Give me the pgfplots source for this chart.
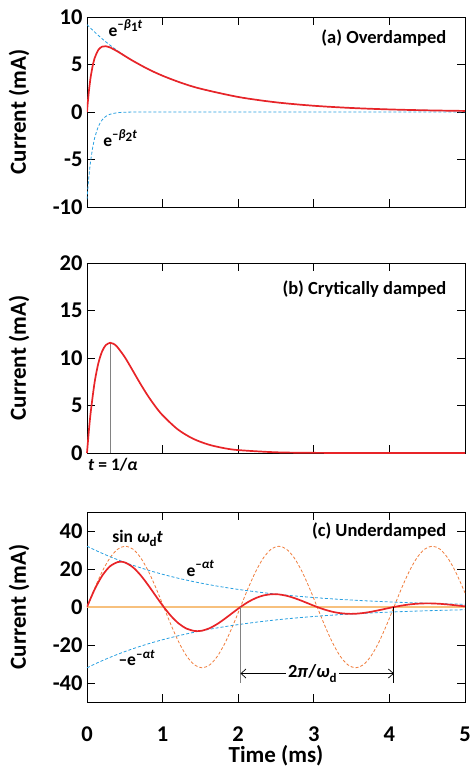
\documentclass[border=0pt]{standalone}
\usepackage{fontspec}
\setmainfont{Carlito}
\usepackage{pgfplots}
\usepackage{pgfplotstable}
\usetikzlibrary{arrows.meta}
\pgfplotsset{compat=1.18}
\definecolor{cred}{RGB}{232,36,40}
\definecolor{cblue}{RGB}{40,160,225}
\definecolor{corange}{RGB}{240,125,60}
\definecolor{clorange}{RGB}{247,192,125}
\definecolor{cgray}{RGB}{130,130,130}
\newcommand{\tickfont}{\fontsize{22.5}{24}\selectfont\bfseries}
\newcommand{\labfont}{\fontsize{23}{26}\selectfont\bfseries}
\newcommand{\titfont}{\fontsize{18.5}{22}\selectfont\bfseries}
\newcommand{\annfont}{\fontsize{17.5}{20}\selectfont\bfseries}
\newcommand{\myup}[1]{\raisebox{0.45em}{\fontsize{13}{13}\selectfont #1}}
\newcommand{\mydn}[1]{\raisebox{-0.25em}{\fontsize{13}{13}\selectfont #1}}

\pgfplotstableread{
t sine env nenv
0 0 32 -32
0.1015 9.889 30.048 -30.048
0.2030 18.810 28.216 -28.216
0.3045 25.889 26.495 -26.495
0.4060 30.434 24.879 -24.879
0.5075 32.000 23.362 -23.362
0.6090 30.434 21.937 -21.937
0.7105 25.889 20.599 -20.599
0.8120 18.810 19.343 -19.343
0.9135 9.889 18.163 -18.163
1.0150 0 17.055 -17.055
1.1165 -9.889 16.015 -16.015
1.2180 -18.810 15.038 -15.038
1.3195 -25.889 14.121 -14.121
1.4210 -30.434 13.260 -13.260
1.5225 -32 12.451 -12.451
1.6240 -30.434 11.692 -11.692
1.7255 -25.889 10.979 -10.979
1.8270 -18.810 10.309 -10.309
1.9285 -9.889 9.680 -9.680
2.0300 0 9.090 -9.090
2.1315 9.889 8.536 -8.536
2.2330 18.810 8.015 -8.015
2.3345 25.889 7.526 -7.526
2.4360 30.434 7.067 -7.067
2.5375 32 6.636 -6.636
2.6390 30.434 6.231 -6.231
2.7405 25.889 5.851 -5.851
2.8420 18.810 5.494 -5.494
2.9435 9.889 5.159 -5.159
3.0450 0 4.845 -4.845
3.1465 -9.889 4.549 -4.549
3.2480 -18.810 4.272 -4.272
3.3495 -25.889 4.011 -4.011
3.4510 -30.434 3.767 -3.767
3.5525 -32 3.537 -3.537
3.6540 -30.434 3.321 -3.321
3.7555 -25.889 3.119 -3.119
3.8570 -18.810 2.928 -2.928
3.9585 -9.889 2.750 -2.750
4.0600 0 2.582 -2.582
4.1615 9.889 2.425 -2.425
4.2630 18.810 2.277 -2.277
4.3645 25.889 2.138 -2.138
4.4660 30.434 2.007 -2.007
4.5675 32 1.885 -1.885
4.6690 30.434 1.770 -1.770
4.7705 25.889 1.662 -1.662
4.8720 18.810 1.561 -1.561
4.9735 9.889 1.465 -1.465
5.0000 7.360 1.442 -1.442
}\tabC

\pgfplotstableread{
t i
0 0
0.1015 9.285
0.2030 16.585
0.3045 21.434
0.4060 23.662
0.4436 23.835
0.5075 23.362
0.6090 20.864
0.7105 16.665
0.8120 11.370
0.9135 5.612
1.0150 0
1.1165 -4.949
1.2180 -8.839
1.3195 -11.424
1.4210 -12.612
1.4586 -12.70
1.5225 -12.451
1.6240 -11.120
1.7255 -8.882
1.8270 -6.060
1.9285 -2.991
2.0300 0
2.1315 2.638
2.2330 4.711
2.3345 6.089
2.4360 6.721
2.4736 6.772
2.5375 6.636
2.6390 5.926
2.7405 4.733
2.8420 3.229
2.9435 1.594
3.0450 0
3.1465 -1.406
3.2480 -2.511
3.3495 -3.245
3.4510 -3.583
3.4886 -3.608
3.5525 -3.537
3.6540 -3.159
3.7555 -2.523
3.8570 -1.721
3.9585 -0.850
4.0600 0
4.1615 0.749
4.2630 1.338
4.3645 1.730
4.4660 1.909
4.5036 1.924
4.5675 1.885
4.6690 1.683
4.7705 1.345
4.8720 0.918
4.9735 0.453
5.0000 0.332
}\tabCred

\pgfplotsset{
  panel/.style={
    scale only axis, width=378pt, height=190pt,
    anchor=south west,
    xmin=0, xmax=5, xtick={0,1,2,3,4,5},
    tick align=inside, major tick length=8pt,
    tick style={black, line width=0.9pt},
    axis line style={line width=0.9pt},
    ticklabel style={font=\tickfont},
    /pgf/number format/assume math mode=true,
    ylabel={Current (mA)},
    ylabel style={font=\labfont, at={(axis description cs:0,0.5)}, yshift=68pt, anchor=center},
    yticklabel style={xshift=-1pt},
    xticklabel style={yshift=-21pt},
  }
}

\begin{document}
\begin{tikzpicture}
% (a) Overdamped
\begin{axis}[panel, at={(0pt,-207pt)}, ymin=-10, ymax=10, ytick={-10,-5,0,5,10}, xticklabels={}]
\addplot[cblue, line width=0.8pt, dash pattern=on 3pt off 2pt, smooth] coordinates {
(0,9.2)(0.02,9.039)(0.05,8.804)(0.1,8.425)(0.15,8.062)(0.2,7.715)(0.25,7.383)(0.3,7.065)(0.4,6.470)(0.5,5.925)(0.6,5.426)(0.8,4.550)(1.0,3.816)(1.25,3.062)(1.5,2.458)(2,1.583)(2.5,1.019)(3,0.657)(3.5,0.423)(4,0.272)(4.5,0.175)(5,0.113)};
\addplot[cblue, line width=0.8pt, dash pattern=on 3pt off 2pt, smooth] coordinates {
(0,-9.2)(0.01,-8.160)(0.02,-7.237)(0.03,-6.419)(0.05,-5.049)(0.08,-3.523)(0.1,-2.771)(0.15,-1.521)(0.2,-0.835)(0.25,-0.458)(0.3,-0.251)(0.4,-0.076)(0.5,-0.023)(0.6,-0.007)(0.8,-0.001)(1,0)(2,0)(3,0)(4,0)(5,0)};
\addplot[cred, line width=1.7pt, smooth] coordinates {
(0,0)(0.01,0.959)(0.02,1.802)(0.03,2.541)(0.05,3.755)(0.08,5.052)(0.1,5.654)(0.15,6.541)(0.2,6.880)(0.25,6.925)(0.3,6.814)(0.4,6.394)(0.5,5.902)(0.6,5.419)(0.8,4.549)(1.0,3.816)(1.25,3.062)(1.5,2.458)(2,1.583)(2.5,1.019)(3,0.657)(3.5,0.423)(4,0.272)(4.5,0.175)(5,0.113)};
\node[anchor=base west, font=\annfont] at (axis cs:0.24,8.0) {e\myup{–\textit{β}\mydn{1}\textit{t}}};
\node[anchor=base west, font=\annfont] at (axis cs:0.17,-3.6) {e\myup{–\textit{β}\mydn{2}\textit{t}}};
\node[anchor=east, font=\titfont] at (rel axis cs:0.96,0.89) {(a) Overdamped};
\end{axis}

% (b) Critically damped
\begin{axis}[panel, at={(0pt,-453pt)}, ymin=0, ymax=20, ytick={0,5,10,15,20}, xticklabels={}, clip=false]
\addplot[cgray, line width=1.2pt] coordinates {(0.3077,0)(0.3077,11.6)};
\addplot[cred, line width=1.7pt, smooth] coordinates {
(0,0)(0.025,2.362)(0.05,4.355)(0.1,7.404)(0.15,9.441)(0.2,10.700)(0.25,11.368)(0.3077,11.60)(0.35,11.500)(0.4,11.171)(0.5,10.090)(0.6,8.747)(0.7,7.373)(0.8,6.089)(0.9,4.950)(1.0,3.974)(1.2,2.489)(1.4,1.516)(1.6,0.905)(1.8,0.531)(2.0,0.308)(2.5,0.076)(3,0.018)(3.5,0.004)(4,0.001)(5,0)};
\node[anchor=east, font=\titfont] at (rel axis cs:0.96,0.863) {(b) Crytically damped};
\node[anchor=north west, font=\annfont, inner sep=0pt] at ([yshift=-5pt,xshift=1pt]rel axis cs:0,0) {\textit{t} = 1/\textit{α}};
\end{axis}

% (c) Underdamped
\begin{axis}[panel, at={(0pt,-702pt)}, ymin=-50, ymax=50, ytick={-40,-20,0,20,40},
  xlabel={Time (ms)}, xlabel style={font=\labfont, at={(axis description cs:0.5,0)}, yshift=-54pt, anchor=center}]
\addplot[clorange, line width=2.2pt] coordinates {(0,0)(5,0)};
\addplot[corange, line width=0.8pt, dash pattern=on 3pt off 2pt, smooth] table[x=t, y=sine] {\tabC};
\addplot[cblue, line width=0.8pt, dash pattern=on 3pt off 2pt, smooth] table[x=t, y=env] {\tabC};
\addplot[cblue, line width=0.8pt, dash pattern=on 3pt off 2pt, smooth] table[x=t, y=nenv] {\tabC};
\addplot[cred, line width=1.7pt, smooth] table[x=t, y=i] {\tabCred};
\addplot[cgray, line width=1.2pt] coordinates {(2.03,0)(2.03,-40)};
\addplot[black, line width=0.9pt] coordinates {(4.06,0)(4.06,-40)};
\draw[{Straight Barb[length=5pt,width=9pt]}-{Straight Barb[length=5pt,width=9pt]}, line width=0.7pt] (axis cs:2.03,-35) -- (axis cs:4.06,-35);
\node[fill=white, inner sep=2pt, font=\fontsize{18.5}{20}\selectfont\bfseries] at (axis cs:2.98,-35) {2\textit{π}/\textit{ω}\mydn{d}};
\node[anchor=base west, font=\annfont] at (axis cs:0.29,34) {sin \textit{ω}\mydn{d}\textit{t}};
\node[anchor=base west, font=\annfont] at (axis cs:1.27,16) {e\myup{–\textit{αt}}};
\node[anchor=base west, font=\annfont] at (axis cs:0.37,-31) {–e\myup{–\textit{αt}}};
\node[anchor=east, font=\titfont] at (rel axis cs:0.96,0.9) {(c) Underdamped};
\end{axis}
\pgfresetboundingbox
\path (-87pt,0pt) rectangle (383pt,-769pt);
\end{tikzpicture}
\end{document}
